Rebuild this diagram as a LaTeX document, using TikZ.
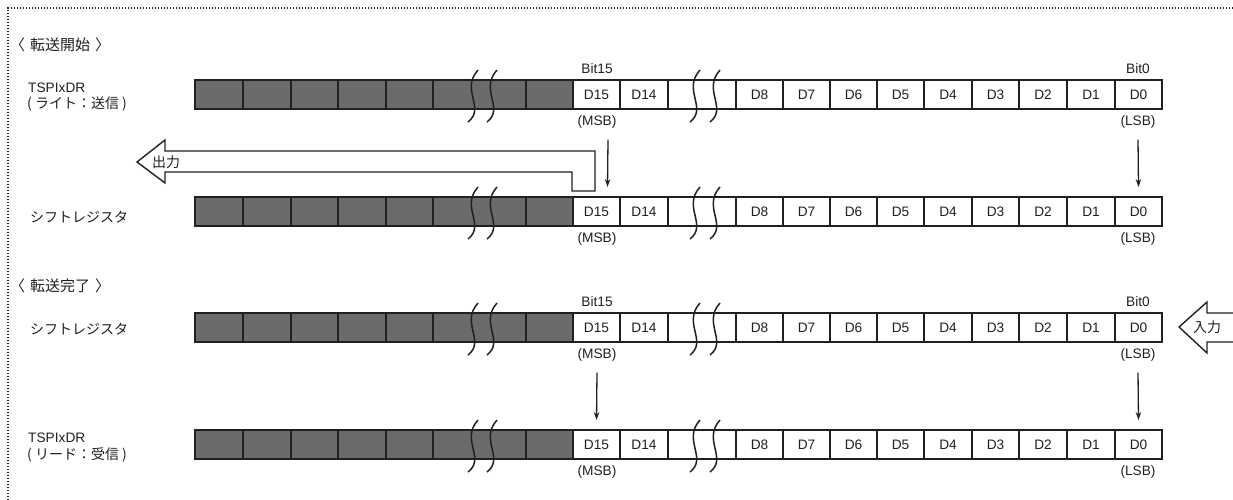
\documentclass[tikz,border=0pt]{standalone}
\usepackage{fontspec}
\setmainfont{Liberation Sans}
\newfontfamily\jp{Noto Sans CJK JP}
\usetikzlibrary{arrows.meta}
\definecolor{ink}{HTML}{231F20}
\definecolor{cellgray}{HTML}{6B6B6B}
\newcommand\wavebreak[2]{\draw[wavy] (#1+6,#2-10) .. controls (#1-12,#2+10) and (#1+14,#2+28) .. (#1-4,#2+42);}
\newcommand\regrow[2]{%
  \foreach \a/\b/\n in {195/243/g1,243/291/g2,291/338/g3,338/386/g4,386/433/g5,433/526/gbrk,526/573/g6}{%
    \node[gcell,minimum width=\b pt-\a pt] (#1\n) at ({(\a+\b)/2},{#2+14.5}) {};}
  \foreach \a/\b/\n/\t in {573/620/d15/D15,620/668/d14/D14,668/736/wbrk/{},736/783/d8/D8,783/830/d7/D7,830/877/d6/D6,877/924/d5/D5,924/972/d4/D4,972/1019/d3/D3,1019/1067/d2/D2,1067/1115/d1/D1,1115/1162/d0/D0}{%
    \node[wcell,minimum width=\b pt-\a pt] (#1\n) at ({(\a+\b)/2},{#2+14.5}) {\t};}
  \wavebreak{472}{#2}\wavebreak{491}{#2}\wavebreak{694}{#2}\wavebreak{714}{#2}}
\begin{document}
\begin{tikzpicture}[x=1pt,y=-1pt,
  cell/.style={draw=ink,line width=1.6pt,minimum height=29pt,inner sep=0pt,outer sep=0pt,font=\fontsize{13.7}{15}\selectfont,text=ink},
  gcell/.style={cell,fill=cellgray},
  wcell/.style={cell,fill=white},
  lbl/.style={font=\fontsize{13.7}{15}\selectfont,text=ink,inner sep=0pt},
  jlbl/.style={font=\jp\fontsize{14}{16}\selectfont,text=ink,inner sep=0pt},
  tlbl/.style={font=\jp\fontsize{15}{17}\selectfont,text=ink,inner sep=0pt},
  wavy/.style={draw=ink,line width=1.5pt},
  darr/.style={draw=ink,line width=1.3pt,-{Stealth[length=8pt,width=5.5pt]}},
  fat/.style={draw=ink,line width=1.4pt,fill=white,line join=miter}]
\useasboundingbox (0,0) rectangle (1233,500);
\draw[ink,line width=1.5pt,dash pattern=on 1.4pt off 1.6pt] (1233,8) -- (8,8) -- (8,500);

% section titles and row labels
\node[tlbl,anchor=west] (start) at (10,45) {〈\hspace{5pt}転送開始\hspace{5pt}〉};
\node[lbl,anchor=west] (la1) at (28,88) {TSPIxDR};
\node[jlbl,anchor=west] (la2) at (27,104) {( ライト：送信 )};
\node[jlbl,anchor=west] (lb) at (30,217) {シフトレジスタ};
\node[tlbl,anchor=west] (done) at (10,286) {〈\hspace{5pt}転送完了\hspace{5pt}〉};
\node[jlbl,anchor=west] (lc) at (30,329) {シフトレジスタ};
\node[lbl,anchor=west] (ld1) at (28,438) {TSPIxDR};
\node[jlbl,anchor=west] (ld2) at (27,455) {( リード：受信 )};

% registers
\regrow{a}{80}
\regrow{b}{197}
\regrow{c}{313}
\regrow{d}{430}

% bit labels
\node[lbl] (abit15) at (597,69) {Bit15};
\node[lbl] (abit0) at (1138,69) {Bit0};
\node[lbl] (amsb) at (597,122) {(MSB)};
\node[lbl] (alsb) at (1138,122) {(LSB)};
\node[lbl] (bmsb) at (597,239) {(MSB)};
\node[lbl] (blsb) at (1138,239) {(LSB)};
\node[lbl] (cbit15) at (597,302) {Bit15};
\node[lbl] (cbit0) at (1138,302) {Bit0};
\node[lbl] (cmsb) at (597,355) {(MSB)};
\node[lbl] (clsb) at (1138,355) {(LSB)};
\node[lbl] (dmsb) at (597,472) {(MSB)};
\node[lbl] (dlsb) at (1138,472) {(LSB)};

% transfer arrows
\draw[darr] ([xshift=11pt,yshift=-11pt]amsb.south) -- ([xshift=11pt,yshift=10pt]bd15.north);
\draw[darr] ([yshift=-11pt]alsb.south) -- ([yshift=10pt]bd0.north);
\draw[darr] ([yshift=-11pt]cmsb.south) -- ([yshift=10pt]dd15.north);
\draw[darr] ([yshift=-11pt]clsb.south) -- ([yshift=10pt]dd0.north);

% output arrow
\draw[fat] (572,191) -- (595,191) -- (595,151) -- (165,151) -- (165,140) -- (137,162) -- (165,183) -- (165,172) -- (572,172) -- cycle;
\node[jlbl] (out) at (166,162) {出力};

% input arrow
\draw[fat] (1233,313) -- (1207,313) -- (1207,302) -- (1179,327) -- (1207,353) -- (1207,342) -- (1233,342);
\node[jlbl] (in) at (1207,327) {入力};
\end{tikzpicture}
\end{document}
